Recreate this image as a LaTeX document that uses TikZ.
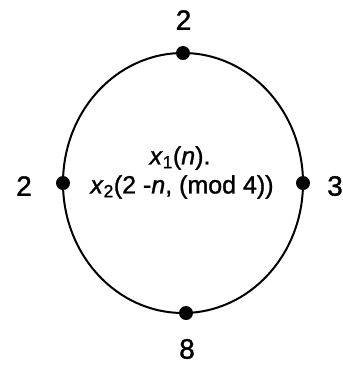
\documentclass[tikz,border=0pt]{standalone}
\usepackage{fontspec}
\setmainfont{Liberation Sans}[FakeBold=1.2]
\begin{document}
\begin{tikzpicture}[x=1pt,y=-1pt,
  dot/.style={circle,fill=black,inner sep=0pt,minimum size=14pt},
  lbl/.style={font=\fontsize{28}{30}\selectfont,inner sep=0pt},
  ctext/.style={font=\fontsize{25}{29}\selectfont,inner sep=0pt,align=center}]
\useasboundingbox (0,0) rectangle (343,368);
\draw[line width=2pt] (183,183) ellipse [x radius=120, y radius=130];
\node[dot] (t) at (183,53) {};
\node[dot] (b) at (186,313) {};
\node[dot] (l) at (63,183) {};
\node[dot] (r) at (303,183) {};
\node[lbl] (tl) at (183.5,20) {2};
\node[lbl] (bl) at (187,349) {8};
\node[lbl] (ll) at (24,186) {2};
\node[lbl,anchor=east] (rl) at (343,186) {3};
\node[ctext] (c1) at (180,158) {\textit{x}\textsubscript{1}(\textit{n}).};
\node[ctext] (c2) at (182,187) {\textit{x}\textsubscript{2}(2 -\textit{n}, (mod 4))};
\end{tikzpicture}
\end{document}
